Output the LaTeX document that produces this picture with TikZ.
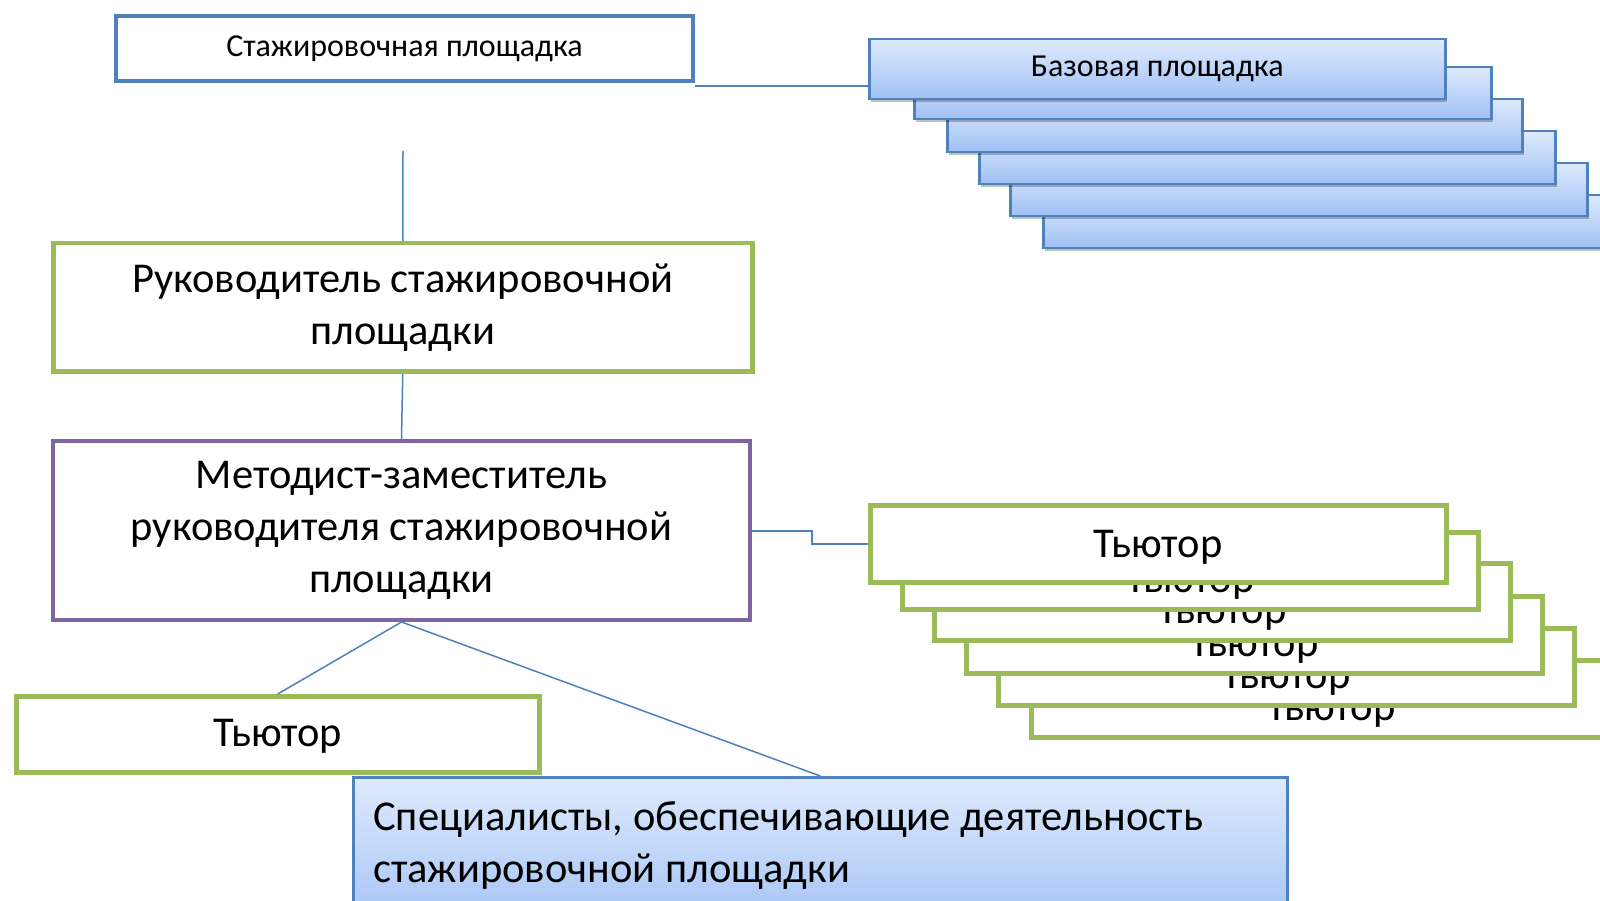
\documentclass[tikz,border=0pt]{standalone}
\usepackage{fontspec}
\setmainfont{Carlito}
\usetikzlibrary{shadows}
\definecolor{bl}{RGB}{79,129,189}
\definecolor{gr}{RGB}{155,187,89}
\definecolor{pu}{RGB}{128,100,162}
\definecolor{ftop}{RGB}{222,234,252}
\definecolor{fbot}{RGB}{160,192,245}
\newcommand{\bigtxt}{\fontsize{42.5}{52}\selectfont}
\newcommand{\backtut}{\raisebox{-12pt}[\height][\depth]{Тьютор}}
\begin{document}
\begin{tikzpicture}[x=1pt,y=-1pt,
  box/.style={rectangle, anchor=north west, inner sep=0pt, align=center, text=black},
  bluebox/.style={box, draw=bl, line width=2.5pt, top color=ftop, bottom color=fbot,
     drop shadow={shadow xshift=2pt, shadow yshift=-3pt, opacity=0.25, fill=black}},
  greenbox/.style={box, draw=gr, line width=4.5pt, fill=white},
  purplebox/.style={box, draw=pu, line width=4pt, fill=white},
  spbox/.style={box, draw=bl, line width=4pt, fill=white},
  tutbox/.style={greenbox, minimum width=576pt, minimum height=77pt, font=\bigtxt},
  conn/.style={draw=bl, line width=1.5pt},
  txt/.style={anchor=north west, inner sep=0pt, align=left, text=black}]
\useasboundingbox (0,0) rectangle (1600,901);
\clip (0,0) rectangle (1600,901);
\fill[white] (0,0) rectangle (1600,901);

% Base stack
\node[bluebox, minimum width=580pt, minimum height=53pt] (b6) at (1042,194) {};
\node[bluebox, minimum width=577pt, minimum height=53pt] (b5) at (1009,162) {};
\node[bluebox, minimum width=576pt, minimum height=53pt] (b4) at (978,130) {};
\node[bluebox, minimum width=575pt, minimum height=53pt] (b3) at (946,98) {};
\node[bluebox, minimum width=577pt, minimum height=52pt] (b2) at (913,66) {};
\node[bluebox, minimum width=576pt, minimum height=60pt, font=\fontsize{32}{38}\selectfont] (b1) at (868,38) {Базовая площадка};

% Стажировочная площадка
\node[spbox, minimum width=577pt, minimum height=65pt, font=\fontsize{32}{38}\selectfont] (sp) at (114,14) {\raisebox{2pt}{Стажировочная площадка}};
\draw[conn, line width=2.5pt] ([yshift=-3pt]sp.south east) -- ([yshift=-3pt]sp.south east -| b1.west);

% Руководитель
\node[greenbox, minimum width=699pt, minimum height=128pt, font=\bigtxt] (ruk) at (51,241) {Руководитель стажировочной\\площадки};
\coordinate (top) at (403,151);
\draw[conn] (top) -- (ruk.north);

% Методист
\node[purplebox, minimum width=697pt, minimum height=179pt, font=\bigtxt] (met) at (51,439) {Методист-заместитель\\руководителя стажировочной\\площадки};
\draw[conn] (ruk.south) -- (met.north);

% Tutor stack
\node[tutbox, minimum width=600pt] (t6) at (1029,658) {\backtut};
\node[tutbox] (t5) at (996,626) {\backtut};
\node[tutbox] (t4) at (964,594) {\backtut};
\node[tutbox] (t3) at (932,561) {\backtut};
\node[tutbox] (t2) at (900,530) {\backtut};
\node[tutbox] (t1) at (868,503) {\raisebox{-4pt}[\height][\depth]{Тьютор}};
\draw[conn, line width=2pt] (met.east) -- ++(60,0) |- (t1.west);

% Left tutor
\node[greenbox, minimum width=523pt, minimum height=76pt, font=\bigtxt] (tl) at (14,694) {\raisebox{-2pt}[\height][\depth]{Тьютор}};
\draw[conn] (met.south) -- (tl.north);

% Specialists
\node[bluebox, minimum width=934pt, minimum height=160pt] (spec) at (352,776) {};
\draw[conn] (met.south) -- (spec.north);
\node[txt, font=\bigtxt] (spectext) at (373,801) {Специалисты, обеспечивающие деятельность\\стажировочной площадки};
\end{tikzpicture}
\end{document}
